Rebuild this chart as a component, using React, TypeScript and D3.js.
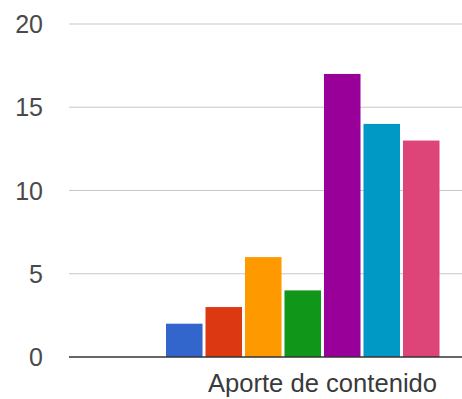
import React from "react";
import * as d3 from "d3";

const categories = ["Aporte de contenido"];
const seriesNames = ["1", "2", "3", "4", "5", "6", "7", "8"];
const seriesValues = [2, 3, 6, 4, 17, 14, 13, 0];
const seriesColors = ["#3366cc", "#dc3912", "#ff9900", "#109618", "#990099", "#0099c6", "#dd4477", "#66aa00"];
const yTicks = [0, 5, 10, 15, 20];

const W = 462;
const H = 399;

export default function App() {
  const y = d3.scaleLinear().domain([0, 20]).range([357, 24]);
  const x0 = d3.scaleBand().domain(categories).range([166, 479]).padding(0);
  const x1 = d3
    .scaleBand()
    .domain(seriesNames)
    .range([0, x0.bandwidth()])
    .paddingInner(0.075)
    .paddingOuter(0);
  const font = "Arial, 'Liberation Sans', sans-serif";

  return (
    <svg
      width={W}
      height={H}
      style={{ position: "absolute", left: 0, top: 0, background: "#fff" }}
    >
      <rect x={0} y={0} width={W} height={H} fill="#fff" />
      {yTicks.map((t) => (
        <g key={t}>
          {t !== 0 && (
            <line x1={69} x2={W} y1={y(t)} y2={y(t)} stroke="#c8c8c8" strokeWidth={1.2} />
          )}
          <text
            x={43}
            y={y(t)}
            textAnchor="end"
            dominantBaseline="central"
            fontFamily={font}
            fontSize={25}
            fill="#4a4a4a"
          >
            {t}
          </text>
        </g>
      ))}
      {categories.map((c) => (
        <g key={c} transform={`translate(${x0(c)},0)`}>
          {seriesNames.map((s, i) => (
            <rect
              key={s}
              x={x1(s)!}
              y={y(seriesValues[i])}
              width={x1.bandwidth()}
              height={y(0) - y(seriesValues[i])}
              fill={seriesColors[i]}
            />
          ))}
          <text
            x={x0.bandwidth() / 2}
            y={392}
            textAnchor="middle"
            fontFamily={font}
            fontSize={25.6}
            fill="#3a3a3a"
          >
            {c}
          </text>
        </g>
      ))}
      <line x1={69} x2={W} y1={y(0)} y2={y(0)} stroke="#333" strokeWidth={1.6} />
    </svg>
  );
}
